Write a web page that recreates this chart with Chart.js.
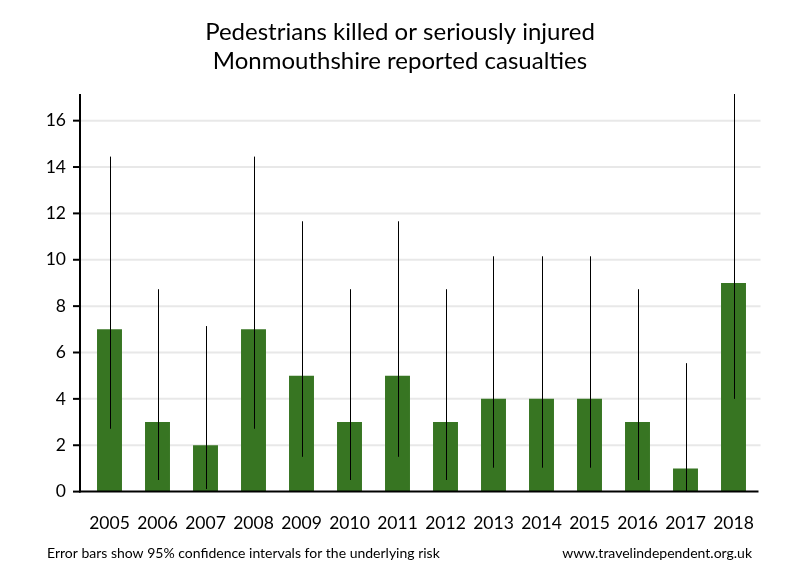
<!DOCTYPE html>
<html lang="en">
<head>
    <meta charset="UTF-8">
    <title>Pedestrians killed or seriously injured - Monmouthshire</title>
    <script src="https://cdn.jsdelivr.net/npm/chart.js"></script>
    <style>
        body {
            margin: 0;
            background: white;
        }
        .wrap {
            width: 800px;
            height: 580px;
        }
    </style>
</head>
<body>
    <div class="wrap">
        <canvas id="ksiChart" width="800" height="580"></canvas>
    </div>

    <script>
        const years = ['2005', '2006', '2007', '2008', '2009', '2010', '2011', '2012', '2013', '2014', '2015', '2016', '2017', '2018'];
        const casualties = [7, 3, 2, 7, 5, 3, 5, 3, 4, 4, 4, 3, 1, 9];
        const ciLower = [2.71, 0.5, 0.11, 2.71, 1.5, 0.5, 1.5, 0.5, 1.03, 1.03, 1.03, 0.5, 0.03, 4.0];
        const ciUpper = [14.45, 8.73, 7.14, 14.45, 11.66, 8.73, 11.66, 8.73, 10.15, 10.15, 10.15, 8.73, 5.54, 17.15];
        const yTickValues = [0, 2, 4, 6, 8, 10, 12, 14, 16];
        const titleLines = ['Pedestrians killed or seriously injured', 'Monmouthshire reported casualties'];
        const footLeft = 'Error bars show 95% confidence intervals for the underlying risk';
        const footRight = 'www.travelindependent.org.uk';

        const FONT = 'Lato, "Open Sans", sans-serif';

        // grid, axes, error bars and texts
        const decorations = {
            id: 'decorations',
            beforeDatasetsDraw(chart) {
                const ctx = chart.ctx;
                const area = chart.chartArea;
                const y = chart.scales.y;
                const axisX = area.left - 5.5;
                ctx.save();
                ctx.strokeStyle = '#e8e8e8';
                ctx.lineWidth = 2;
                yTickValues.forEach(v => {
                    if (v === 0) return;
                    const py = y.getPixelForValue(v);
                    ctx.beginPath();
                    ctx.moveTo(axisX, py);
                    ctx.lineTo(area.right + 3, py);
                    ctx.stroke();
                });
                ctx.restore();
            },
            afterDatasetsDraw(chart) {
                const ctx = chart.ctx;
                const area = chart.chartArea;
                const x = chart.scales.x;
                const y = chart.scales.y;
                const axisX = area.left - 5.5;
                ctx.save();

                // error bars
                ctx.strokeStyle = '#000';
                ctx.lineWidth = 1;
                years.forEach((yr, i) => {
                    const px = Math.round(x.getPixelForValue(i)) + 0.5;
                    ctx.beginPath();
                    ctx.moveTo(px, y.getPixelForValue(ciLower[i]));
                    ctx.lineTo(px, y.getPixelForValue(ciUpper[i]));
                    ctx.stroke();
                });

                // axis lines and tick marks
                ctx.lineWidth = 2;
                ctx.beginPath();
                ctx.moveTo(axisX, area.top);
                ctx.lineTo(axisX, area.bottom + 1);
                ctx.stroke();
                ctx.beginPath();
                ctx.moveTo(axisX - 1, area.bottom);
                ctx.lineTo(area.right + 1, area.bottom);
                ctx.stroke();
                yTickValues.forEach(v => {
                    const py = y.getPixelForValue(v);
                    ctx.beginPath();
                    ctx.moveTo(axisX - 7, py);
                    ctx.lineTo(axisX, py);
                    ctx.stroke();
                });

                // title
                ctx.fillStyle = '#000';
                ctx.font = '24px ' + FONT;
                ctx.textAlign = 'center';
                ctx.textBaseline = 'middle';
                ctx.fillText(titleLines[0], 400, 32);
                ctx.fillText(titleLines[1], 400, 61);

                // footer
                ctx.font = '14px ' + FONT;
                ctx.textAlign = 'left';
                ctx.fillText(footLeft, 47, 553);
                ctx.textAlign = 'right';
                ctx.fillText(footRight, 752, 553);
                ctx.restore();
            }
        };

        new Chart(document.getElementById('ksiChart'), {
            type: 'bar',
            data: {
                labels: years,
                datasets: [{
                    data: casualties,
                    backgroundColor: '#377522',
                    borderWidth: 0,
                    barPercentage: 0.52,
                    categoryPercentage: 1
                }]
            },
            options: {
                responsive: false,
                animation: false,
                layout: {
                    padding: { top: 94, right: 42.5, bottom: 0, left: 0 }
                },
                plugins: {
                    legend: { display: false },
                    tooltip: { enabled: false }
                },
                scales: {
                    x: {
                        grid: { display: false, drawTicks: false },
                        border: { display: false },
                        ticks: {
                            color: '#000',
                            font: { family: FONT, size: 17.5 },
                            padding: 21,
                            maxRotation: 0
                        },
                        afterFit(scale) { scale.height = 88.4; }
                    },
                    y: {
                        min: 0,
                        max: 17.15,
                        grid: { display: false, drawTicks: false },
                        border: { display: false },
                        ticks: {
                            color: '#000',
                            font: { family: FONT, size: 17.5 },
                            padding: 19.5
                        },
                        afterBuildTicks(scale) {
                            scale.ticks = yTickValues.map(v => ({ value: v }));
                        },
                        afterFit(scale) { scale.width = 85.5; }
                    }
                }
            },
            plugins: [decorations]
        });
    </script>
</body>
</html>
